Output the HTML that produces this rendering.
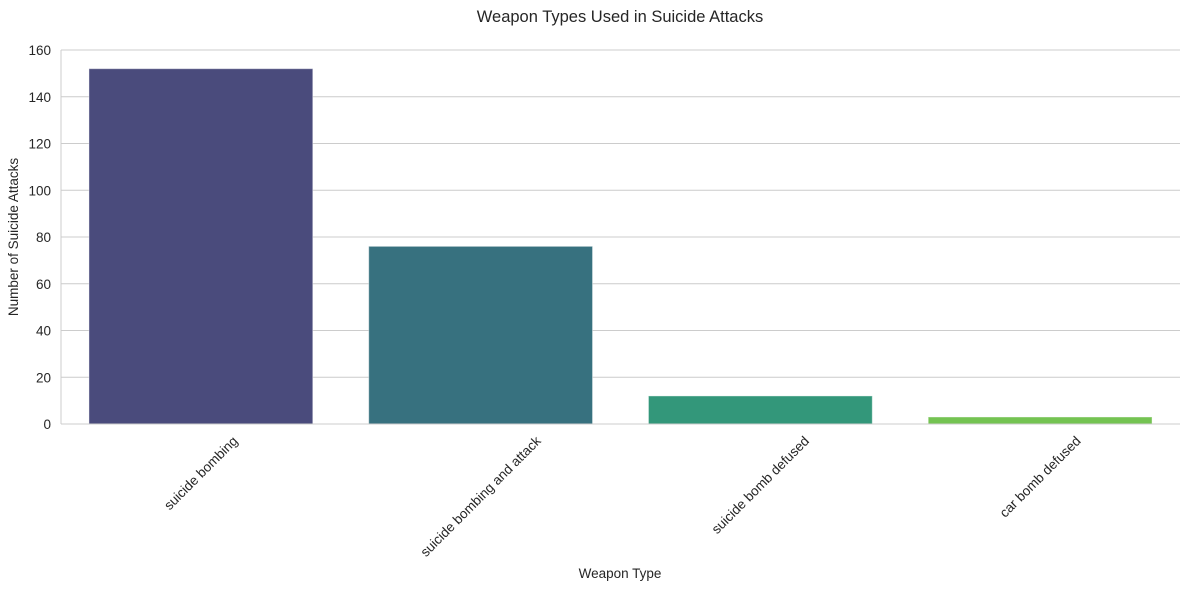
<!DOCTYPE html>
<html><head><meta charset="utf-8"><style>
body{margin:0;background:#fff;}
svg{display:block;font-family:"Liberation Sans",Arial,sans-serif;}
</style></head><body>
<svg id="chart" width="1189" height="589" viewBox="0 0 1189 589">
<text x="620" y="22" text-anchor="middle" font-size="16.5" fill="#262626">Weapon Types Used in Suicide Attacks</text>
<g id="grid"></g><g id="bars"></g><g id="axes"></g>
<text x="620" y="578" text-anchor="middle" font-size="13.5" fill="#262626">Weapon Type</text>
<text transform="translate(18,237) rotate(-90)" text-anchor="middle" font-size="13.5" fill="#262626">Number of Suicide Attacks</text>
</svg>
<script>
const categories=["suicide bombing","suicide bombing and attack","suicide bomb defused","car bomb defused"];
const values=[152,76,12,3];
const colors=["#4a4b7c","#37717f","#33977a","#74c352"];
const yTicks=[0,20,40,60,80,100,120,140,160];
const NS="http://www.w3.org/2000/svg";
const L=61,R=1180,T=50,B=424,yMax=160;
const y=v=>B-(v/yMax)*(B-T);
const band=(R-L)/categories.length;
const xc=i=>L+band*(i+0.5);
function mk(t,a,p){const e=document.createElementNS(NS,t);for(const k in a)e.setAttribute(k,a[k]);p.appendChild(e);return e;}
const grid=document.getElementById('grid'),bars=document.getElementById('bars'),axes=document.getElementById('axes');
yTicks.forEach(t=>{
 const g=mk('line',{x1:L,x2:R,y1:y(t),y2:y(t),stroke:'#cccccc','stroke-width':1},grid);
 
 
 const tx=mk('text',{x:L-10,y:y(t)+5,'text-anchor':'end','font-size':13.5,fill:'#262626'},axes);
 tx.textContent=t;
 
 
});
categories.forEach((c,i)=>{
 const w=band*0.8;
 const r=mk('rect',{x:xc(i)-w/2,y:y(values[i]),width:w,height:B-y(values[i]),fill:colors[i],stroke:'#ffffff','stroke-opacity':0.4,'stroke-width':1},bars);
 
 
 const t=mk('text',{'text-anchor':'middle','font-size':13.5,fill:'#262626'},axes);
 t.textContent=c;
 
 
 const len=t.getComputedTextLength();
 const cy=434+(len+13)*0.7071/2;
 t.setAttribute('transform','translate('+xc(i)+','+cy+') rotate(-45)');
 t.setAttribute('y',4.5);
});
const sl=mk('line',{x1:L,x2:L,y1:T,y2:B,stroke:'#cccccc','stroke-width':1},axes);


const sb=mk('line',{x1:L,x2:R,y1:B,y2:B,stroke:'#cccccc','stroke-width':1},axes);


</script>
</body></html>
